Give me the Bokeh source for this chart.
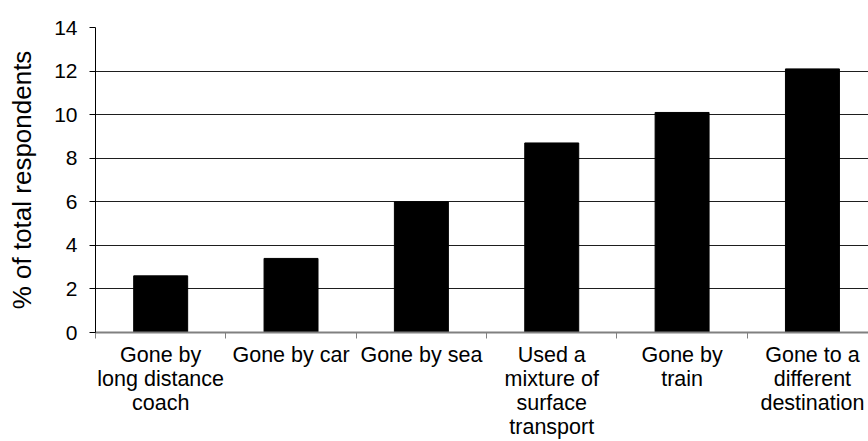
from bokeh.plotting import figure
from bokeh.models import FixedTicker, Range1d, ColumnDataSource
from bokeh.embed import file_html
from bokeh.resources import INLINE

categories = [
    "Gone by\nlong distance\ncoach",
    "Gone by car",
    "Gone by sea",
    "Used a\nmixture of\nsurface\ntransport",
    "Gone by\ntrain",
    "Gone to a\ndifferent\ndestination",
]
values = [2.6, 3.4, 6.0, 8.7, 10.1, 12.1]
y_ticks = [0, 2, 4, 6, 8, 10, 12, 14]

xs = list(range(len(categories)))
FONT = "Liberation Sans"

p = figure(width=868, height=441, output_backend="svg", toolbar_location=None,
           x_range=Range1d(-0.5, 5.43), y_range=Range1d(0, 14),
           min_border_left=95, min_border_right=0, min_border_top=27, min_border_bottom=109)

src = ColumnDataSource(dict(x=xs, top=values))
p.vbar(x="x", top="top", width=0.414, bottom=0, source=src,
       fill_color="black", line_color="black")

p.outline_line_color = None
p.background_fill_color = "white"
p.xgrid.grid_line_color = None
p.ygrid.ticker = FixedTicker(ticks=y_ticks)
p.ygrid.grid_line_color = "#1e1e1e"
p.ygrid.grid_line_width = 1

# x axis
xa = p.xaxis[0]
xa.ticker = FixedTicker(ticks=xs, minor_ticks=[i - 0.5 for i in xs])
xa.major_label_overrides = {i: c for i, c in zip(xs, categories)}
xa.major_tick_line_color = None
xa.major_tick_out = 0
xa.major_tick_in = 0
xa.minor_tick_out = 6
xa.minor_tick_in = 0
xa.minor_tick_line_color = "#808080"
xa.axis_line_color = "#808080"
xa.axis_line_width = 2
xa.major_label_standoff = 4
xa.major_label_text_font = FONT
xa.major_label_text_font_size = "21.5px"
xa.major_label_text_color = "black"
xa.major_label_text_line_height = 1.0

# y axis
ya = p.yaxis[0]
ya.ticker = FixedTicker(ticks=y_ticks)
ya.minor_tick_line_color = None
ya.major_tick_out = 6
ya.major_tick_in = 0
ya.major_tick_line_color = "black"
ya.axis_line_color = "black"
ya.major_label_standoff = 12
ya.major_label_text_font = FONT
ya.major_label_text_font_size = "21px"
ya.major_label_text_color = "black"
ya.axis_label = "% of total respondents"
ya.axis_label_text_font = FONT
ya.axis_label_text_font_size = "26px"
ya.axis_label_text_font_style = "normal"
ya.axis_label_text_color = "black"
ya.axis_label_standoff = 14

open("out.html", "w").write(file_html(p, INLINE))
